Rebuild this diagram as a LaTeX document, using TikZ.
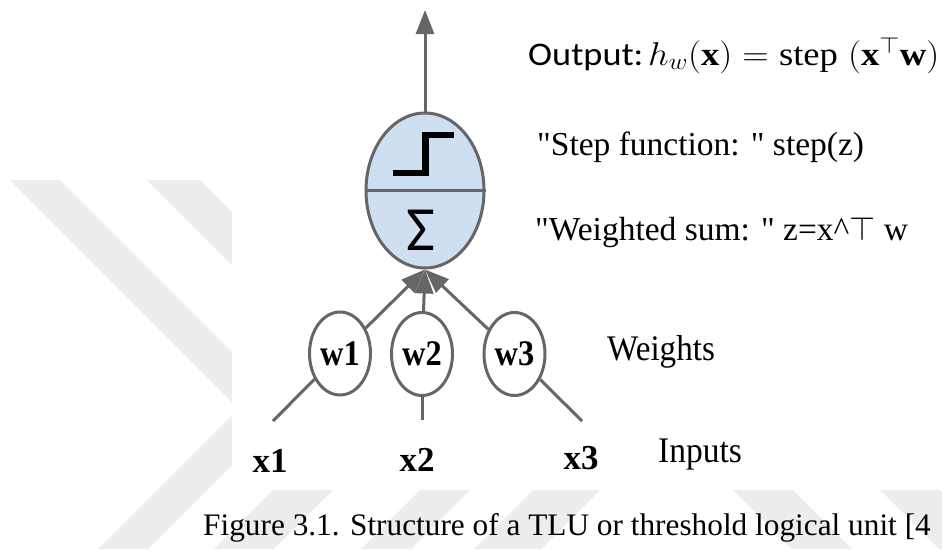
\RequirePackage{fix-cm}
\documentclass[tikz,border=0pt]{standalone}
\usepackage{fontspec}
\setmainfont{Liberation Serif}[Ligatures=TeXOff]
\newfontfamily\labelsans{Carlito}
\usetikzlibrary{shapes.geometric,arrows.meta}
\definecolor{wmark}{RGB}{237,237,237}
\definecolor{unitfill}{RGB}{207,223,242}
\definecolor{wirecol}{RGB}{102,102,102}

\begin{document}
\begin{tikzpicture}[x=1pt,y=-1pt,
  wire/.style={draw=wirecol,line width=3pt},
  flow/.style={wire,-{Triangle[length=24pt,width=18pt]}},
  weightnode/.style={ellipse,draw=wirecol,line width=3pt,fill=white,
    minimum width=61pt,minimum height=83pt,inner sep=0pt,
    font=\fontsize{36}{40}\selectfont\bfseries},
  sidetext/.style={anchor=base west,inner sep=0pt,font=\fontsize{33.5}{36}\selectfont},
  inputlbl/.style={anchor=base,inner sep=0pt,font=\fontsize{35}{38}\selectfont\bfseries}
]
\useasboundingbox (0,0) rectangle (942,549);

% faint chevron watermark behind the figure
\begin{scope}
  \clip (0,0) rectangle (942,549);
  \fill[wmark] (10,180) -- (60,180) -- (288.5,408.5) -- (148,549) -- (98,549) -- (238.5,408.5) -- cycle;
  \fill[wmark] (147,180) -- (200,180) -- (421.5,401.5) -- (274,549) -- (214,549) -- (365,398) -- cycle;
  \fill[wmark] (430,480) -- (480,480) -- (411,549) -- (361,549) -- cycle;
  \fill[wmark] (543,480) -- (610,480) -- (541,549) -- (474,549) -- cycle;
  \fill[wmark] (723,480) -- (783,480) -- (852,549) -- (792,549) -- cycle;
  \fill[wmark] (870,480) -- (930,480) -- (999,549) -- (939,549) -- cycle;
\end{scope}
% white panel of the figure itself
\fill[white] (232,0) rectangle (942,490);

% threshold logic unit
\node[ellipse,draw=wirecol,line width=3pt,fill=unitfill,minimum width=118pt,
  minimum height=155pt,inner sep=0pt] (tlu) at (425,190.5) {};
\draw[wire] (tlu.west) -- (tlu.east);
% step symbol and summation sign
\draw[line width=6.5pt] (393,173) -- (425.5,173) -- (425.5,135) -- (454,135);
\node[inner sep=0pt,font=\labelsans\fontsize{63}{63}\selectfont] (sigma) at (421,230) {Σ};

% output arrow
\coordinate (outtip) at (425,10);
\draw[flow] (tlu.north) -- (outtip);

% weights
\node[weightnode] (w1) at (340,353.5) {\scalebox{0.9}[1]{w1}};
\node[weightnode] (w2) at (422,354) {\scalebox{0.9}[1]{w2}};
\node[weightnode] (w3) at (514.5,354) {\scalebox{0.9}[1]{w3}};

% inputs
\coordinate (in1) at (273,421);
\coordinate (in2) at (422,420);
\coordinate (in3) at (582,421);
\node[inputlbl] (x1) at (270,472) {x1};
\node[inputlbl] (x2) at (417,471) {x2};
\node[inputlbl] (x3) at (581,469) {x3};

\draw[wire] (in1) -- (w1);
\draw[wire] (in2) -- (w2);
\draw[wire] (in3) -- (w3);
\draw[flow] (w1) -- (tlu.south);
\draw[flow] (w2) -- (tlu.south);
\draw[flow] (w3) -- (tlu.south);

% descriptions
\node[anchor=base west,inner sep=0pt,font=\labelsans\fontsize{33}{36}\selectfont] (outlbl) at (528,65)
  {\scalebox{1.1}[1]{Output:}};
\node[anchor=base west,inner sep=0pt,font=\fontsize{33}{36}\selectfont] (outmath) at (648,65)
  {\scalebox{1.11}[1]{$h_w(\mathbf{x}) = \mathrm{step}\;(\mathbf{x}^{\top}\mathbf{w})$}};
\node[sidetext] (steplbl) at (537,155) {"Step function: " step(z)};
\node[sidetext] (sumlbl) at (535,240) {"Weighted sum: " z=x\textasciicircum$\top$ w};
\node[sidetext,font=\fontsize{36}{40}\selectfont] (wlbl) at (607,360) {\scalebox{0.92}[1]{Weights}};
\node[sidetext,font=\fontsize{36}{40}\selectfont] (ilbl) at (658,462) {\scalebox{0.93}[1]{Inputs}};

% caption
\node[anchor=base west,inner sep=0pt,font=\fontsize{31.3}{36}\selectfont] (caption) at (203,535)
  {Figure 3.1. Structure of a TLU or threshold logical unit [4};
\end{tikzpicture}
\end{document}
